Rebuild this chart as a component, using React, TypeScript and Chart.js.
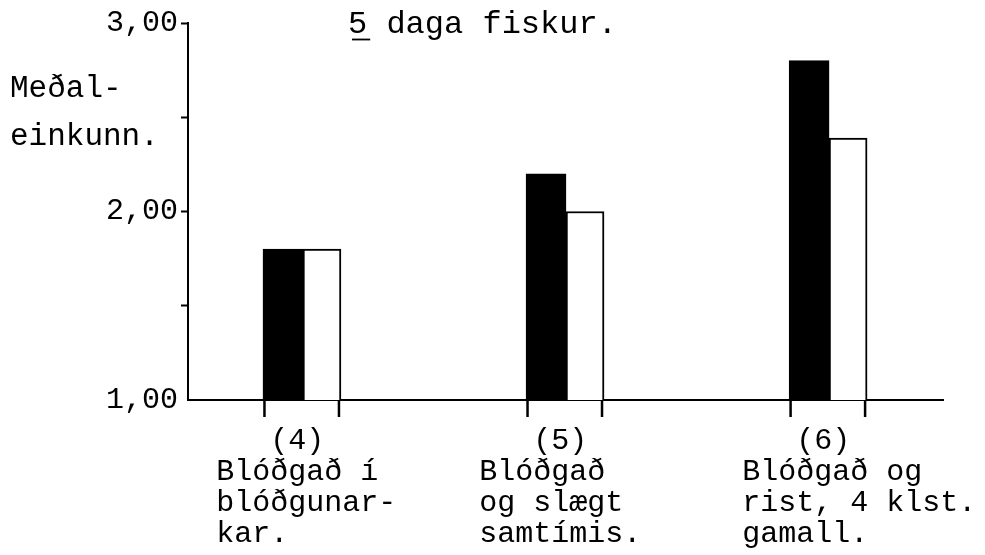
import React, { useEffect, useRef } from 'react';
import { Chart, registerables } from 'chart.js';

Chart.register(...registerables);

// ---- data ----
const CATEGORY_HEADERS = ['(4)', '(5)', '(6)'];
const CATEGORY_TEXT = [
  ['Blóðgað í', 'blóðgunar-', 'kar.'],
  ['Blóðgað', 'og slægt', 'samtímis.'],
  ['Blóðgað og', 'rist, 4 klst.', 'gamall.'],
];
const BLACK_VALUES = [1.8, 2.2, 2.8];
const WHITE_VALUES = [1.8, 2.0, 2.39];
const Y_TICK_VALUES = [1, 1.5, 2, 2.5, 3];
const Y_TICK_LABELS = ['1,00', '', '2,00', '', '3,00'];
const TITLE_NUMBER = '5';
const TITLE_REST = ' daga fiskur.';
const Y_CAPTION = ['Meðal-', 'einkunn.'];

const FONT = '"Liberation Mono", "DejaVu Sans Mono", monospace';
const X_MIN = -0.437;
const X_MAX = 2.433;
const LABEL_SHIFT = 0.33;

const decorations = {
  id: 'decorations',
  afterDatasetsDraw(chart: any) {
    const ctx = chart.ctx;
    const area = chart.chartArea;
    const m0 = chart.getDatasetMeta(0);
    const m1 = chart.getDatasetMeta(1);
    ctx.save();
    ctx.strokeStyle = '#000';
    ctx.lineWidth = 2.5;
    ctx.beginPath();
    m0.data.forEach((bar: any, i: number) => {
      const p0 = bar.getProps(['x', 'width'], true);
      const p1 = m1.data[i].getProps(['x', 'width'], true);
      const l = p0.x - p0.width / 2 + 1.5;
      const r = p1.x + p1.width / 2 - 2;
      ctx.moveTo(l, area.bottom);
      ctx.lineTo(l, area.bottom + 17);
      ctx.moveTo(r, area.bottom);
      ctx.lineTo(r, area.bottom + 17);
    });
    ctx.stroke();

    ctx.fillStyle = '#000';
    ctx.textAlign = 'left';
    ctx.textBaseline = 'alphabetic';
    ctx.font = `32px ${FONT}`;
    const tx = 348;
    const ty = 33;
    ctx.fillText(TITLE_NUMBER + TITLE_REST, tx, ty);
    const w = ctx.measureText(TITLE_NUMBER).width;
    ctx.lineWidth = 1.8;
    ctx.beginPath();
    ctx.moveTo(tx + 4, ty + 6.5);
    ctx.lineTo(tx + w + 3, ty + 6.5);
    ctx.stroke();

    ctx.font = `31px ${FONT}`;
    Y_CAPTION.forEach((t, i) => ctx.fillText(t, 10, 97 + i * 48));
    ctx.restore();
  },
};

export default function App() {
  const ref = useRef<HTMLCanvasElement | null>(null);

  useEffect(() => {
    if (!ref.current) return;
    const chart = new Chart(ref.current, {
      type: 'bar',
      data: {
        datasets: [
          {
            data: BLACK_VALUES.map((v, i) => ({ x: i, y: v })),
            backgroundColor: '#000',
            borderColor: '#000',
            borderWidth: 2,
            barThickness: 40,
          },
          {
            data: WHITE_VALUES.map((v, i) => ({ x: i, y: v })),
            backgroundColor: '#fff',
            borderColor: '#000',
            borderWidth: 2,
            barThickness: 38,
          },
        ],
      },
      options: {
        animation: false,
        responsive: true,
        maintainAspectRatio: false,
        layout: { padding: { top: 23, right: 42, left: 0, bottom: 0 } },
        plugins: { legend: { display: false }, tooltip: { enabled: false }, title: { display: false } },
        scales: {
          x: {
            type: 'linear',
            offset: false,
            min: X_MIN,
            max: X_MAX,
            afterBuildTicks: (scale: any) => {
              scale.ticks = CATEGORY_HEADERS.map((_, i) => ({ value: i - LABEL_SHIFT }));
            },
            afterFit: (scale: any) => {
              scale.height = 155;
              scale.paddingLeft = 0;
              scale.paddingRight = 0;
            },
            grid: { display: false, offset: false, drawTicks: false, drawOnChartArea: false },
            border: { display: true, color: '#000', width: 2 },
            ticks: {
              autoSkip: false,
              maxRotation: 0,
              minRotation: 0,
              align: 'start',
              padding: 25,
              color: '#000',
              font: { family: FONT, size: 30, lineHeight: 1.04 },
              callback: (_v: any, i: number) => ['   ' + CATEGORY_HEADERS[i], ...CATEGORY_TEXT[i]],
            },
          },
          y: {
            type: 'linear',
            min: 1,
            max: 3,
            afterBuildTicks: (scale: any) => {
              scale.ticks = Y_TICK_VALUES.map((v) => ({ value: v }));
            },
            afterFit: (scale: any) => {
              scale.width = 188;
            },
            grid: {
              display: true,
              drawOnChartArea: false,
              drawTicks: true,
              tickLength: 7,
              tickWidth: 2,
              tickColor: (c: any) => (c.tick && c.tick.value === 1 ? 'rgba(0,0,0,0)' : '#000'),
            },
            border: { display: true, color: '#000', width: 2 },
            ticks: {
              autoSkip: false,
              padding: 3,
              color: '#000',
              font: { family: FONT, size: 30 },
              callback: (_v: any, i: number) => Y_TICK_LABELS[i],
            },
          },
        },
      },
      plugins: [decorations],
    } as any);
    return () => chart.destroy();
  }, []);

  return (
    <div style={{ position: 'absolute', left: 0, top: 0, width: 985, height: 555, background: '#fff' }}>
      <canvas ref={ref} style={{ display: 'block' }} />
    </div>
  );
}
